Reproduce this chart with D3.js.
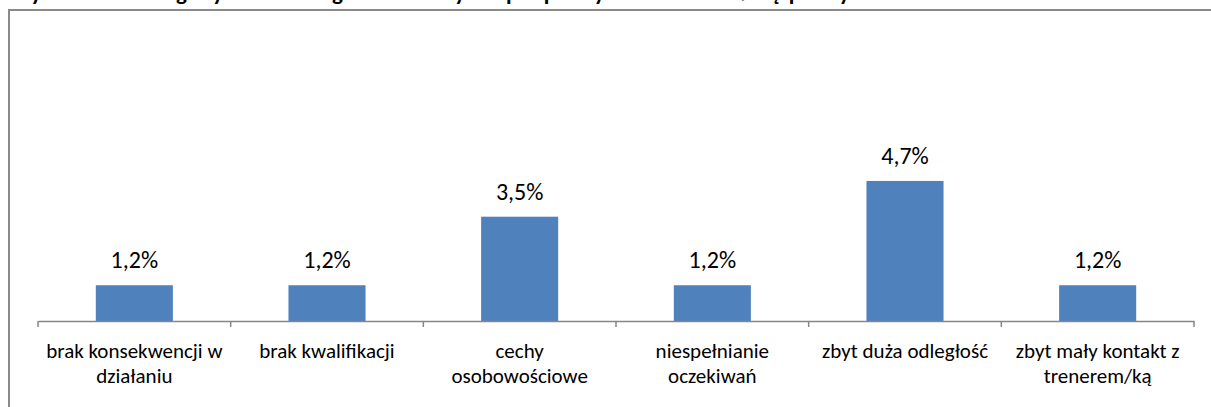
<!DOCTYPE html>
<html>
<head>
<meta charset="utf-8">
<script src="https://cdn.jsdelivr.net/npm/d3@7"></script>
<style>
  body { margin: 0; background: #fff; overflow: hidden; }
  text { font-family: Carlito, Calibri, Lato, sans-serif; fill: #000; }
</style>
</head>
<body>
<div id="chart"></div>
<script>
// chart data
const title = "Wykres 12. Negatywne kategorie oceny współpracy z trenerem/ką pracy";
const categories = [
  "brak konsekwencji w działaniu",
  "brak kwalifikacji",
  "cechy osobowościowe",
  "niespełnianie oczekiwań",
  "zbyt duża odległość",
  "zbyt mały kontakt z trenerem/ką"
];
// how the category names break onto lines under the axis
const categoryLines = [
  ["brak konsekwencji w", "działaniu"],
  ["brak kwalifikacji"],
  ["cechy", "osobowościowe"],
  ["niespełnianie", "oczekiwań"],
  ["zbyt duża odległość"],
  ["zbyt mały kontakt z", "trenerem/ką"]
];
const values = [1.2, 1.2, 3.5, 1.2, 4.7, 1.2];

const width = 1211, height = 407;
const margin = {top: 23, right: 17, bottom: 86, left: 38};

const svg = d3.select("#chart")
  .append("svg")
    .attr("width", width)
    .attr("height", height);

// title, mostly cut off by the top edge
svg.append("text")
  .attr("x", 8)
  .attr("y", -0.5)
  .attr("textLength", 842)
  .attr("lengthAdjust", "spacing")
  .style("font-size", "23px")
  .style("font-weight", "bold")
  .text(title);

// chart frame
svg.append("rect")
  .attr("x", 9)
  .attr("y", 10)
  .attr("width", width + 20)
  .attr("height", height + 20)
  .style("fill", "#fff")
  .style("stroke", "#8a8a8a")
  .style("stroke-width", 2);

const x = d3.scaleBand()
  .domain(categories)
  .range([margin.left, width - margin.right]);

const y = d3.scaleLinear()
  .domain([0, 10])
  .range([height - margin.bottom, margin.top]);

const barW = x.bandwidth() * 0.4;

// bars
svg.selectAll(".bar")
  .data(values)
  .join("rect")
    .attr("class", "bar")
    .attr("x", (d, i) => x(categories[i]) + (x.bandwidth() - barW) / 2)
    .attr("y", d => y(d))
    .attr("width", barW)
    .attr("height", d => y(0) - y(d))
    .style("fill", "#4f81bd");

// data labels
const fmt = d => d3.format(".1f")(d).replace(".", ",") + "%";
svg.selectAll(".lbl")
  .data(values)
  .join("text")
    .attr("class", "lbl")
    .attr("x", (d, i) => x(categories[i]) + x.bandwidth() / 2)
    .attr("y", d => y(d) - 17)
    .attr("text-anchor", "middle")
    .style("font-size", "24px")
    .text(fmt);

// x axis: line only, ticks drawn at category boundaries
const axis = svg.append("g")
  .attr("transform", `translate(0,${y(0)})`)
  .call(d3.axisBottom(x).tickSize(0).tickFormat(""));
axis.select(".domain").attr("stroke", "#868686").attr("stroke-width", 1.5);

const bounds = categories.map(c => x(c)).concat([x.range()[1]]);
axis.selectAll(".bound")
  .data(bounds)
  .join("line")
    .attr("class", "bound")
    .attr("x1", d => d).attr("x2", d => d)
    .attr("y1", 0).attr("y2", 6)
    .attr("stroke", "#868686")
    .attr("stroke-width", 1.5);

// category labels
const cats = svg.selectAll(".cat")
  .data(categories)
  .join("text")
    .attr("class", "cat")
    .attr("x", d => x(d) + x.bandwidth() / 2)
    .attr("y", y(0) + 37)
    .attr("text-anchor", "middle")
    .style("font-size", "21px");

cats.selectAll("tspan")
  .data((d, i) => categoryLines[i])
  .join("tspan")
    .attr("x", function() { return this.parentNode.getAttribute("x"); })
    .attr("dy", (d, i) => i === 0 ? 0 : 25)
    .text(d => d);
</script>
</body>
</html>
